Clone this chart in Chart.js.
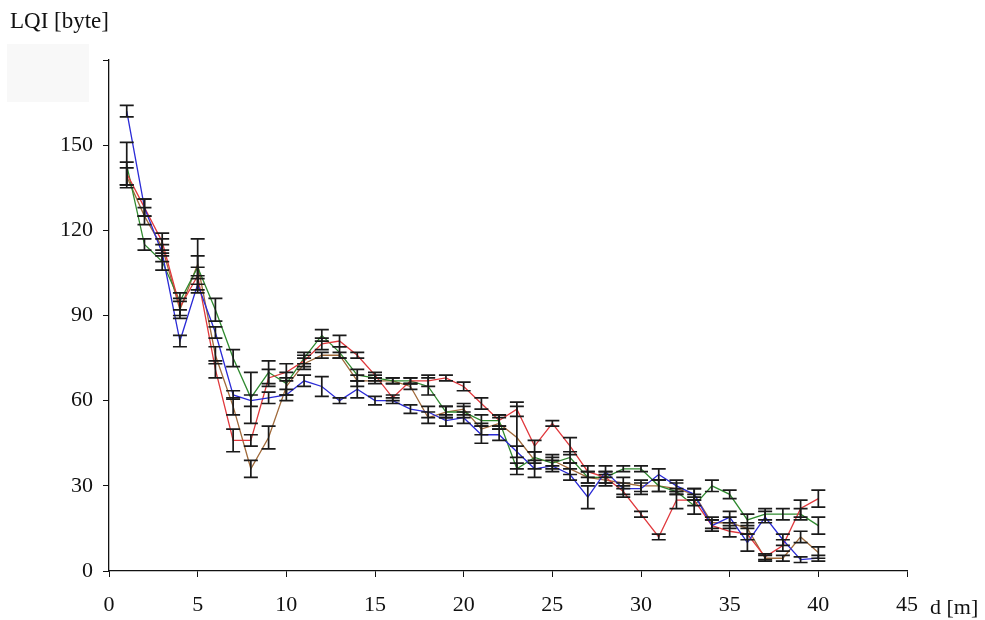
<!DOCTYPE html>
<html>
<head>
<meta charset="utf-8">
<script src="https://cdn.jsdelivr.net/npm/chart.js@4/dist/chart.umd.min.js"></script>
<style>
  html, body { margin: 0; padding: 0; background: #ffffff; }
  #wrap { position: relative; width: 985px; height: 620px; }
  #shade { position: absolute; left: 7px; top: 44px; width: 82px; height: 58px; background: #f8f8f8; }
  canvas { position: absolute; left: 0; top: 0; }
</style>
</head>
<body>
<div id="wrap">
  <div id="shade"></div>
  <canvas id="c" width="985" height="620"></canvas>
</div>
<script>
// distance from the sender, metres
const distances = [1,2,3,4,5,6,7,8,9,10,11,12,13,14,15,16,17,18,19,20,
                   21,22,23,24,25,26,27,28,29,30,31,32,33,34,35,36,37,38,39,40];

// mean LQI per distance, one array per measurement run
const lqiBlue  = [162,128,112,81,101,84,62,60,61,62,67,65,60,64,60,60,57,56,53,54,
                  48,48,42,36,37,34,26,35,29,29,34,30,27,16,19,10,19,11,4,4.5];
const lqiRed   = [140,128,116,93,104,71,46,46,68,70,74,80,81,76,69,61,67,67,68,65,
                  59,53,57,44,52,44,35,33,28,20,12,25,25,16,14,13,5,9,22,25.5];
const lqiGreen = [143,115,109,95,107,92,75,61,70,66,75,83,77,69,68,67,67,65,56,56,
                  53,53,36,40,38,40,33,33,36,36,30,28,23,30,27,18,20,20,20,16];
const lqiBrown = [139,125,114,92,108,76,58,36,47,65,73,76,76,67,67,67,65,54,56,57,
                  50,52,47,39,39,36,33,32,31,30,30,29,27,17,17,15,4.5,4.5,12,6.5];

// half-width of the error bar at each distance
const errBlue  = [2,3,3,2,3,2,1.5,2,2,2,2,3.5,1,3,1.5,1,1.5,2,2,2,
                  3,2,2,3,2,2,4,2,2,2,2,2,2,2,2,3,2,2,1,1];
const errRed   = [4,3,3,3,3,3,4,2,3,3,2,2,2,1,1,1,1,2,1,1.5,
                  2,2,2.5,2,1,3,2,2,2,1,1,3,2,2,2,2,1,2,3,3];
const errGreen = [8,2,3,3,4,4,3,9,4,4,2,2,2,2,1,1,1,3,2,2,
                  2,2,2,2,2,2,2,2,1,1,2,1,3,2,1.5,2,2,2,2,3];
const errBrown = [3,3,3,3,9,3,3,3,4,3,2,1,1,2,1,1,1,2,2,2,
                  2,2,11,3,2,2,2,2,2,2,2,2,2,2,2,2,1,1,2,2];

// axis ticks
const xTicks = [0,5,10,15,20,25,30,35,40,45];
const yTicks = [0,30,60,90,120,150,180];

const serif = '"Liberation Serif", "Times New Roman", serif';

function series(vals) {
  return distances.map((d, i) => ({ x: d, y: vals[i] }));
}

function makeSet(vals, errs, color) {
  return {
    data: series(vals),
    errs: errs,
    borderColor: color,
    backgroundColor: color,
    borderWidth: 1.3,
    pointRadius: 0,
    tension: 0,
    fill: false
  };
}

// vertical error bars with caps, drawn through the chart scales
const errorBars = {
  id: 'errorBars',
  afterDatasetsDraw(chart) {
    const ctx = chart.ctx;
    const xs = chart.scales.x, ys = chart.scales.y;
    ctx.save();
    ctx.strokeStyle = '#1a1a1a';
    ctx.lineWidth = 1.7;
    chart.data.datasets.forEach(ds => {
      ds.data.forEach((p, i) => {
        const e = ds.errs[i];
        const x = xs.getPixelForValue(p.x);
        const yt = ys.getPixelForValue(p.y + e);
        const yb = ys.getPixelForValue(p.y - e);
        ctx.beginPath();
        ctx.moveTo(x, yt); ctx.lineTo(x, yb);
        ctx.moveTo(x - 7, yt); ctx.lineTo(x + 7, yt);
        ctx.moveTo(x - 7, yb); ctx.lineTo(x + 7, yb);
        ctx.stroke();
      });
    });
    ctx.restore();
  }
};

// axis names
const axisNames = {
  id: 'axisNames',
  afterDraw(chart) {
    const ctx = chart.ctx;
    ctx.save();
    ctx.fillStyle = '#111';
    ctx.font = '23px ' + serif;
    ctx.textBaseline = 'alphabetic';
    ctx.textAlign = 'left';
    ctx.fillText('LQI [byte]', 10, 28);
    ctx.font = '22px ' + serif;
    ctx.fillText('d [m]', 930, 614);
    ctx.restore();
  }
};

new Chart(document.getElementById('c'), {
  type: 'line',
  data: {
    datasets: [
      makeSet(lqiBlue, errBlue, '#2a2ad6'),
      makeSet(lqiRed, errRed, '#e0383c'),
      makeSet(lqiGreen, errGreen, '#2f8a2f'),
      makeSet(lqiBrown, errBrown, '#a06a3a')
    ]
  },
  options: {
    responsive: false,
    animation: false,
    layout: { padding: { left: 0, top: 60, right: 78, bottom: 0 } },
    plugins: { legend: { display: false }, tooltip: { enabled: false } },
    scales: {
      x: {
        type: 'linear',
        min: 0, max: 45,
        afterBuildTicks(s) { s.ticks = xTicks.map(v => ({ value: v })); },
        afterFit(s) { s.height = 49; },
        grid: { display: true, drawOnChartArea: false, drawTicks: true, tickLength: 6, color: '#111' },
        border: { display: true, color: '#111', width: 1.3 },
        ticks: { color: '#111', font: { family: serif, size: 22 }, padding: 15, maxRotation: 0 }
      },
      y: {
        type: 'linear',
        min: 0, max: 180,
        afterBuildTicks(s) { s.ticks = yTicks.map(v => ({ value: v })); },
        afterFit(s) { s.width = 109; },
        grid: { display: true, drawOnChartArea: false, drawTicks: true, tickLength: 6, color: '#111' },
        border: { display: true, color: '#111', width: 1.3 },
        ticks: {
          color: '#111', font: { family: serif, size: 22 }, padding: 10,
          callback: v => (v === 180 ? '' : v)
        }
      }
    }
  },
  plugins: [errorBars, axisNames]
});
</script>
</body>
</html>
